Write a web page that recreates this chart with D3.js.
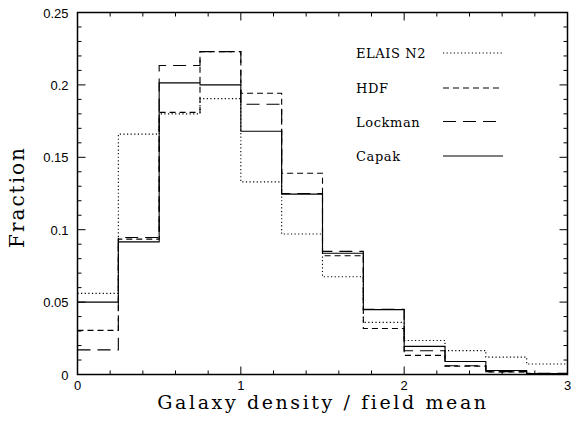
<!DOCTYPE html>
<html>
<head>
<meta charset="utf-8">
<script src="https://cdn.jsdelivr.net/npm/d3@7"></script>
<style>
  body { margin: 0; background: #fff; }
  svg { display: block; }
  .tick-label { font-family: "Liberation Sans", Arial, sans-serif; font-size: 13px; fill: #000; }
  .title { font-family: "DejaVu Serif", serif; fill: #000; }
</style>
</head>
<body>
<script>
// bin edges: 0 .. 3 in steps of 0.25
var binEdges = [0, 0.25, 0.5, 0.75, 1, 1.25, 1.5, 1.75, 2, 2.25, 2.5, 2.75, 3];

var seriesNames = ["ELAIS N2", "HDF", "Lockman", "Capak"];

var elais   = [0.056, 0.166, 0.180, 0.1905, 0.133, 0.097, 0.0675, 0.036, 0.0235, 0.0165, 0.012, 0.0072];
var hdf     = [0.0305, 0.0935, 0.181, 0.223, 0.1942, 0.139, 0.082, 0.0318, 0.0132, 0.0058, 0.0018, 0.0006];
var lockman = [0.017, 0.0946, 0.2134, 0.223, 0.1866, 0.125, 0.085, 0.045, 0.0164, 0.006, 0.002, 0.0008];
var capak   = [0.050, 0.0916, 0.2014, 0.200, 0.168, 0.1246, 0.0837, 0.0448, 0.0194, 0.009, 0.0028, 0.0006];

var xTicks = [0, 1, 2, 3];
var yTicks = [0, 0.05, 0.1, 0.15, 0.2, 0.25];
var yTickLabels = ["0", "0.05", "0.1", "0.15", "0.2", "0.25"];

var dashes = ["1.2,2.4", "6,4", "13,7", null];

var width = 571, height = 421;
var pLeft = 77.5, pRight = 567.5, pTop = 12.5, pBottom = 374.5;

var svg = d3.select("body").append("svg")
  .attr("width", width)
  .attr("height", height);

var x = d3.scaleLinear().domain([0, 3]).range([pLeft, pRight]);
var y = d3.scaleLinear().domain([0, 0.25]).range([pBottom, pTop]);

// frame
svg.append("rect")
  .attr("x", pLeft).attr("y", pTop)
  .attr("width", pRight - pLeft).attr("height", pBottom - pTop)
  .attr("fill", "none").attr("stroke", "#000").attr("stroke-width", 1.5);

// ticks on all four sides, pointing inward
var xMinor = d3.range(0, 3.0001, 0.2);
xMinor.forEach(function(v) {
  var major = Math.abs(v - Math.round(v)) < 1e-6;
  var len = major ? 8 : 4;
  svg.append("line").attr("x1", x(v)).attr("x2", x(v)).attr("y1", pBottom).attr("y2", pBottom - len)
    .attr("stroke", "#000").attr("stroke-width", 1);
  svg.append("line").attr("x1", x(v)).attr("x2", x(v)).attr("y1", pTop).attr("y2", pTop + len)
    .attr("stroke", "#000").attr("stroke-width", 1);
});
var yMinor = d3.range(0, 0.25001, 0.01);
yMinor.forEach(function(v) {
  var major = Math.abs(v / 0.05 - Math.round(v / 0.05)) < 1e-6;
  var len = major ? 8 : 4;
  svg.append("line").attr("x1", pLeft).attr("x2", pLeft + len).attr("y1", y(v)).attr("y2", y(v))
    .attr("stroke", "#000").attr("stroke-width", 1);
  svg.append("line").attr("x1", pRight).attr("x2", pRight - len).attr("y1", y(v)).attr("y2", y(v))
    .attr("stroke", "#000").attr("stroke-width", 1);
});

// tick labels
svg.selectAll(".xl").data(xTicks).enter().append("text")
  .attr("class", "tick-label")
  .attr("x", function(d) { return x(d); })
  .attr("y", pBottom + 15)
  .attr("text-anchor", "middle")
  .text(function(d) { return d; });

svg.selectAll(".yl").data(yTicks).enter().append("text")
  .attr("class", "tick-label")
  .attr("x", pLeft - 9)
  .attr("y", function(d) { return y(d) + 5; })
  .attr("text-anchor", "end")
  .text(function(d, i) { return yTickLabels[i]; });

// axis titles
svg.append("text")
  .attr("class", "title")
  .attr("x", 323).attr("y", 409)
  .attr("text-anchor", "middle")
  .style("font-size", "19px")
  .style("letter-spacing", "2.6px")
  .text("Galaxy density / field mean");

svg.append("text")
  .attr("class", "title")
  .attr("transform", "translate(24,197) rotate(-90)")
  .attr("text-anchor", "middle")
  .style("font-size", "20px")
  .style("letter-spacing", "2px")
  .text("Fraction");

// step histograms
function stepPath(vals) {
  var pts = [];
  vals.forEach(function(v, i) {
    pts.push([binEdges[i], v]);
    pts.push([binEdges[i + 1], v]);
  });
  return d3.line().x(function(d) { return x(d[0]); }).y(function(d) { return y(d[1]); })(pts);
}

var allSeries = [elais, hdf, lockman, capak];
allSeries.forEach(function(vals, i) {
  svg.append("path")
    .attr("d", stepPath(vals))
    .attr("fill", "none")
    .attr("stroke", "#000")
    .attr("stroke-width", 1.1)
    .attr("stroke-dasharray", dashes[i]);
});

// legend
var legY = [53, 88, 121.5, 156];
seriesNames.forEach(function(name, i) {
  svg.append("text")
    .attr("class", "title")
    .attr("x", 356).attr("y", legY[i] + 5)
    .style("font-size", "13px")
    .style("letter-spacing", "0.6px")
    .text(name);
  svg.append("line")
    .attr("x1", 443).attr("x2", 503)
    .attr("y1", legY[i]).attr("y2", legY[i])
    .attr("stroke", "#000").attr("stroke-width", 1.1)
    .attr("stroke-dasharray", dashes[i]);
});
</script>
</body>
</html>
